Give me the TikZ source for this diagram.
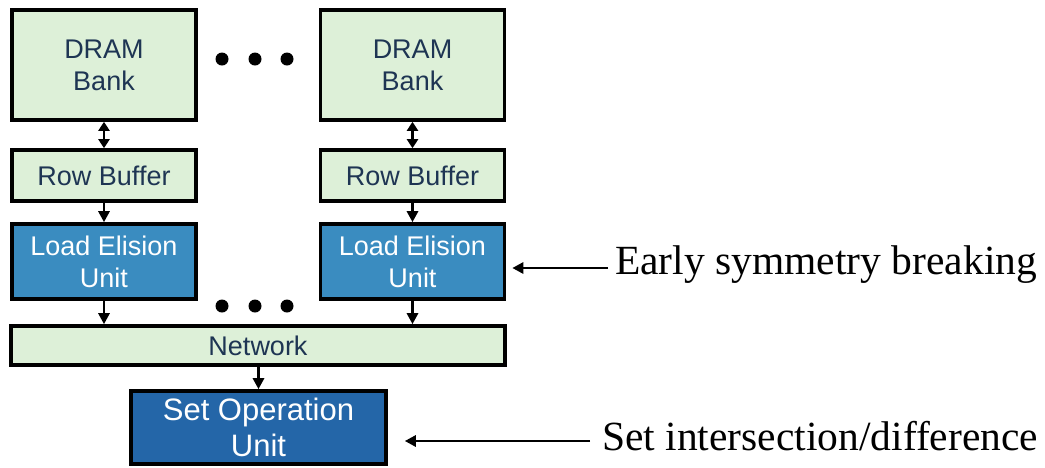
\documentclass[tikz,border=0pt]{standalone}
\usepackage{fontspec}
\setmainfont{Liberation Serif}
\newfontfamily\boxfont{Liberation Sans}
\usetikzlibrary{arrows.meta}
\definecolor{lightgreen}{HTML}{DDF0D8}
\definecolor{midblue}{HTML}{3A8CC0}
\definecolor{darkblue}{HTML}{2466A8}
\definecolor{navytext}{HTML}{1E3553}
\begin{document}
\begin{tikzpicture}[x=1pt,y=-1pt,
  box/.style={draw=black,line width=3.6pt,rectangle,align=center,inner sep=0pt,font=\boxfont\fontsize{27}{32}\selectfont},
  greenbox/.style={box,fill=lightgreen,text=navytext},
  bluebox/.style={box,fill=midblue,text=white},
  opbox/.style={box,fill=darkblue,text=white,font=\boxfont\fontsize{31}{36}\selectfont},
  arr/.style={-{Triangle[length=11pt,width=11pt]},line width=2.8pt},
  darr/.style={{Triangle[length=9pt,width=11pt]}-{Triangle[length=9pt,width=11pt]},line width=2.8pt},
  lab/.style={font=\fontsize{41.5}{48}\selectfont,anchor=west,inner sep=0pt},
  dot/.style={circle,fill=black,inner sep=0pt,minimum size=13pt}]
\useasboundingbox (0,0) rectangle (1045,467);
\node[greenbox,minimum width=184pt,minimum height=110pt] (dram1) at (104,65) {DRAM\\Bank};
\node[greenbox,minimum width=184pt,minimum height=110pt] (dram2) at (412.5,65) {DRAM\\Bank};
\node[greenbox,minimum width=184pt,minimum height=51pt] (rb1) at (104,175.5) {Row Buffer};
\node[greenbox,minimum width=184pt,minimum height=51pt] (rb2) at (412.5,175.5) {Row Buffer};
\node[bluebox,minimum width=184pt,minimum height=75pt] (leu1) at (104,261.5) {Load Elision\\Unit};
\node[bluebox,minimum width=184pt,minimum height=75pt] (leu2) at (412.5,261.5) {Load Elision\\Unit};
\node[greenbox,minimum width=494pt,minimum height=39pt] (net) at (258,345.5) {Network};
\node[opbox,minimum width=255pt,minimum height=73pt] (sou) at (258.5,427.5) {Set Operation\\Unit};
\node[dot] (d1) at (222,59) {};
\node[dot] (d2) at (255,59) {};
\node[dot] (d3) at (287,59) {};
\node[dot] (d4) at (222,306) {};
\node[dot] (d5) at (255,306) {};
\node[dot] (d6) at (287,306) {};
\draw[darr] (dram1) -- (rb1);
\draw[darr] (dram2) -- (rb2);
\draw[arr] (rb1) -- (leu1);
\draw[arr] (rb2) -- (leu2);
\draw[arr] (leu1.south) -- (leu1.south |- net.north);
\draw[arr] (leu2.south) -- (leu2.south |- net.north);
\draw[arr] (net.south -| sou.north) -- (sou.north);
\node[lab] (l1) at (615,265) {Early symmetry breaking};
\node[lab] (l2) at (602,436) {Set intersection/difference};
\coordinate (a1) at (608,268);
\coordinate (a2) at (590,441);
\draw[arr] (a1) -- ([xshift=6pt]leu2.east |- a1);
\draw[arr] (a2) -- ([xshift=17pt]sou.east |- a2);
\end{tikzpicture}
\end{document}
